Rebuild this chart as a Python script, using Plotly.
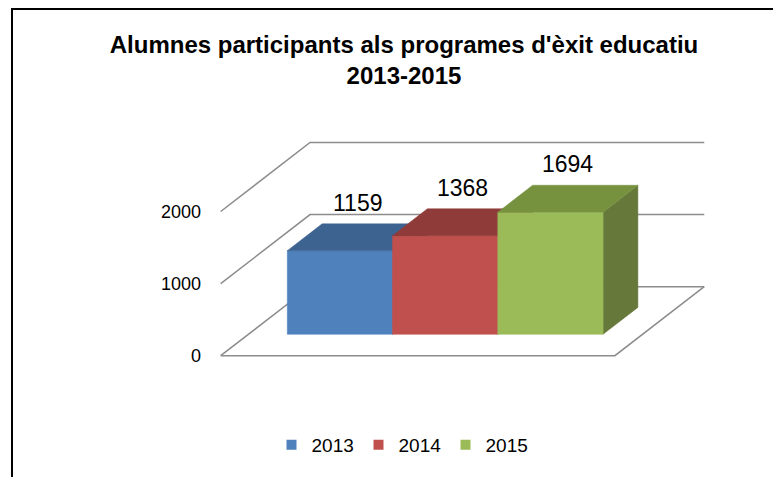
import plotly.graph_objects as go

# ---------------- data ----------------
years = ["2013", "2014", "2015"]
values = [1159, 1368, 1694]
tick_vals = [0, 1000, 2000]
tick_text = ["0", "1000", "2000"]
title_lines = ["Alumnes participants als programes d'èxit educatiu", "2013-2015"]

# ---------------- style ----------------
front_colors = ["#4F81BD", "#C0504D", "#9BBB59"]
top_colors = ["#3D6391", "#8F3B39", "#76923F"]
side_colors = ["#37577F", "#7D3331", "#66793A"]
grid_color = "#8C8C8C"
FONT = "Liberation Sans"

W, H = 781, 477
OFF = 8                      # page body margin of the exported html
ML, MR, MT, MB = 196, 41, 92, 102
PLOT_W = W - ML - MR
PLOT_H = H - MT - MB

# screen anchors for the scale (floor front-left corner) and scale factors
ORIGIN_PX = (220.7, 355.7)
PX_PER_X = 131.4
PX_PER_V = 0.0721

XR = [(ML + OFF - ORIGIN_PX[0]) / PX_PER_X,
      (ML + OFF + PLOT_W - ORIGIN_PX[0]) / PX_PER_X]
YR = [(ORIGIN_PX[1] - (MT + OFF + PLOT_H)) / PX_PER_V,
      (ORIGIN_PX[1] - (MT + OFF)) / PX_PER_V]

# pseudo-3D geometry (in axis units)
FLOOR_W = 3.0
DX = 0.680
DY = 957
SIDE = 0.296
BAR_W = 0.801
D0, D1 = 0.31, 0.70


def proj(x, d, v):
    return x + d * DX, v + d * DY


fig = go.Figure()

# ---- walls / floor gridlines ----
gx, gy = [], []
for t in tick_vals:
    for (x, d) in [(0, 0), (0, 1), (FLOOR_W, 1)]:
        px, py = proj(x, d, t)
        gx.append(px); gy.append(py)
    gx.append(None); gy.append(None)
for (x, d) in [(0, 0), (FLOOR_W, 0), (FLOOR_W, 1)]:
    px, py = proj(x, d, 0)
    gx.append(px); gy.append(py)
fig.add_trace(go.Scatter(x=gx, y=gy, mode="lines",
                         line=dict(color=grid_color, width=1.5),
                         hoverinfo="skip", showlegend=False))


def face(pts, color):
    xs = [p[0] for p in pts] + [pts[0][0]]
    ys = [p[1] for p in pts] + [pts[0][1]]
    return go.Scatter(x=xs, y=ys, mode="lines", fill="toself",
                      fillcolor=color, line=dict(color=color, width=0.5),
                      hoverinfo="skip", showlegend=False)


annotations = []
for i, (yr, v) in enumerate(zip(years, values)):
    x0 = SIDE + i * BAR_W
    x1 = x0 + BAR_W
    front = [proj(x0, D0, 0), proj(x1, D0, 0), proj(x1, D0, v), proj(x0, D0, v)]
    top = [proj(x0, D0, v), proj(x1, D0, v), proj(x1, D1, v), proj(x0, D1, v)]
    side = [proj(x1, D0, 0), proj(x1, D1, 0), proj(x1, D1, v), proj(x1, D0, v)]
    fig.add_trace(face(side, side_colors[i]))
    fig.add_trace(face(front, front_colors[i]))
    fig.add_trace(face(top, top_colors[i]))
    lx, _ = proj((x0 + x1) / 2, (D0 + D1) / 2, v)
    _, ly = proj((x0 + x1) / 2, D1, v)
    annotations.append(dict(x=lx, y=ly, xref="x", yref="y", text=str(v),
                            showarrow=False, yanchor="bottom", xanchor="center",
                            xshift=0, yshift=6,
                            font=dict(family=FONT, size=23, color="#000000")))

# ---- legend entries ----
for i, yr in enumerate(years):
    fig.add_trace(go.Scatter(x=[None], y=[None], mode="markers", name=yr,
                             marker=dict(symbol="square", size=10,
                                         color=front_colors[i])))

fig.update_layout(
    width=W, height=H,
    margin=dict(l=ML, r=MR, t=MT, b=MB),
    paper_bgcolor="white", plot_bgcolor="white",
    title=dict(text="<b>" + "<br>".join(title_lines) + "</b>",
               x=(404 - OFF) / W, xref="container", xanchor="center",
               y=1 - 45 / H, yref="container", yanchor="top",
               font=dict(family=FONT, size=24, color="#000000")),
    xaxis=dict(range=XR, visible=False, fixedrange=True),
    yaxis=dict(range=YR, tickvals=tick_vals, ticktext=tick_text,
               showgrid=False, zeroline=False, showline=False, ticks="",
               tickfont=dict(family=FONT, size=18, color="#000000"),
               ticklabelstandoff=2, fixedrange=True),
    legend=dict(orientation="h", x=(402 - OFF - ML) / PLOT_W, xanchor="center",
                xref="paper",
                y=(MT + PLOT_H - (445 - OFF)) / PLOT_H, yanchor="middle",
                font=dict(family=FONT, size=19, color="#000000"),
                entrywidth=42),
    annotations=annotations,
    shapes=[dict(type="rect", xref="paper", yref="paper",
                 x0=(12 - OFF - ML) / PLOT_W, x1=1.3,
                 y0=-0.6, y1=(MT + PLOT_H - 1) / PLOT_H,
                 line=dict(color="#000000", width=2), layer="above")],
    showlegend=True,
)

fig.write_html("out.html")
